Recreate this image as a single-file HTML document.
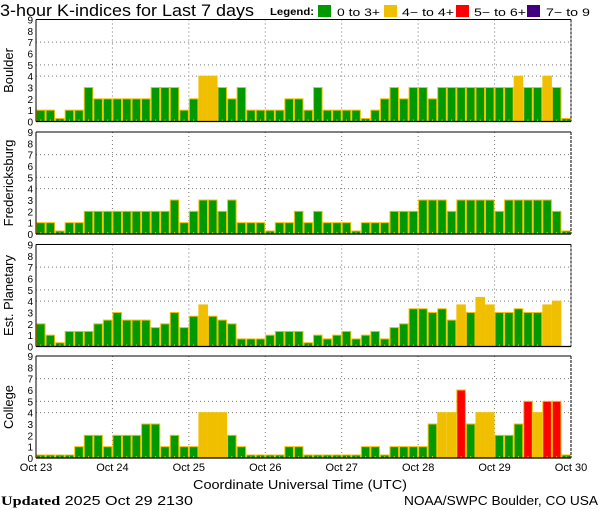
<!DOCTYPE html>
<html><head><meta charset="utf-8"><style>
html,body{margin:0;padding:0;background:#fff;}
svg{display:block;font-family:"Liberation Sans",sans-serif;}
</style></head><body>
<svg id="chart" width="600" height="510" viewBox="0 0 600 510">
<text x="0" y="16" font-size="17" textLength="254" lengthAdjust="spacingAndGlyphs" fill="#000">3-hour K-indices for Last 7 days</text>
<g>
<text x="270" y="15" font-size="10" font-weight="bold" textLength="44" lengthAdjust="spacingAndGlyphs" fill="#000">Legend:</text>
<rect x="318" y="5" width="13" height="12" fill="#009900"/>
<text x="337" y="16" font-size="11" textLength="43" lengthAdjust="spacingAndGlyphs">0 to 3+</text>
<rect x="384" y="5" width="13" height="12" fill="#f0c000"/>
<text x="402" y="16" font-size="11" textLength="52" lengthAdjust="spacingAndGlyphs">4− to 4+</text>
<rect x="456" y="5" width="13" height="12" fill="#ff0000"/>
<text x="474" y="16" font-size="11" textLength="52" lengthAdjust="spacingAndGlyphs">5− to 6+</text>
<rect x="527" y="5" width="13" height="12" fill="#400080"/>
<text x="546" y="16" font-size="11" textLength="44" lengthAdjust="spacingAndGlyphs">7− to 9</text>
</g>
<text x="193" y="489" font-size="13" textLength="214" lengthAdjust="spacingAndGlyphs">Coordinate Universal Time (UTC)</text>
<text x="1" y="505" font-size="13" textLength="192" lengthAdjust="spacingAndGlyphs"><tspan font-family="Liberation Serif, serif" font-weight="bold">Updated</tspan> 2025 Oct 29 2130</text>
<text x="404" y="505" font-size="13" textLength="194" lengthAdjust="spacingAndGlyphs">NOAA/SWPC Boulder, CO USA</text>
</svg>
<script>
const panelNames = ["Boulder","Fredericksburg","Est. Planetary","College"];
const dayLabels = ["Oct 23","Oct 24","Oct 25","Oct 26","Oct 27","Oct 28","Oct 29","Oct 30"];
const yTicks = [0,1,2,3,4,5,6,7,8,9];
const gridLevels = [4,5,7];
const boulder = [1,1,0,1,1,3,2,2, 2,2,2,2,3,3,3,1, 2,4,4,3,2,3,1,1, 1,1,2,2,1,3,1,1, 1,1,0,1,2,3,2,3, 3,2,3,3,3,3,3,3, 3,3,4,3,3,4,3,0];
const fredericksburg = [1,1,0,1,1,2,2,2, 2,2,2,2,2,2,3,1, 2,3,3,2,3,1,1,1, 0,1,1,2,1,2,1,1, 1,0,1,1,1,2,2,2, 3,3,3,2,3,3,3,3, 2,3,3,3,3,3,2,0];
const planetary = [2,1,0.33,1.33,1.33,1.33,2,2.33, 3,2.33,2.33,2.33,1.67,2,3,1.67, 2.67,3.67,2.67,2.33,2,0.67,0.67,0.67, 1,1.33,1.33,1.33,0.33,1,0.67,1, 1.33,0.67,1,1.33,0.67,1.67,2,3.33, 3.33,3,3.33,2.33,3.67,3,4.33,3.67, 3,3,3.33,3,3,3.67,4,null];
const college = [0,0,0,0,1,2,2,1, 2,2,2,3,3,1,2,1, 1,4,4,4,2,1,0,0, 0,0,1,1,0,0,0,0, 0,0,1,1,0,1,1,1, 1,3,4,4,6,3,4,4, 2,2,3,5,4,5,5,0];
const series = [boulder,fredericksburg,planetary,college];

const NS="http://www.w3.org/2000/svg";
const svg=document.getElementById('chart');
const X0=36, X1=571, N=56;
const panelTop=[19.5,132,244.5,356], PH=102;
function xScale(i){return X0+(X1-X0)*i/N;}
function yScale(p,v){return panelTop[p]+PH-PH*v/9;}
function mk(tag,attrs,parent){const e=document.createElementNS(NS,tag);for(const k in attrs)e.setAttribute(k,attrs[k]);(parent||svg).appendChild(e);return e;}
function color(v){if(v>=6.67)return"#400080";if(v>=4.67)return"#ff0000";if(v>=3.67)return"#f0c000";return"#009900";}

series.forEach((data,p)=>{
  const g=mk('g',{});
  
  
  const t0=panelTop[p], b0=t0+PH;
  const tt=mk('text',{x:0,y:0,'font-size':13,'text-anchor':'middle',transform:`translate(13,${t0+PH/2}) rotate(-90)`},g);
  tt.textContent=panelNames[p];
  
  
  yTicks.forEach(v=>{
    const yt=mk('text',{x:33,y:yScale(p,v)+4,'font-size':10,'text-anchor':'end'},g);
    yt.textContent=v;
    
    
  });
  gridLevels.forEach(v=>{
    const gl=mk('line',{x1:X0,x2:X1,y1:yScale(p,v),y2:yScale(p,v),stroke:'#777','stroke-dasharray':'1,3'},g);
    
    
  });
  for(let d=1;d<7;d++){
    const vl=mk('line',{x1:xScale(d*8),x2:xScale(d*8),y1:t0,y2:b0,stroke:'#777','stroke-dasharray':'1,3'},g);
    
    
  }
  data.forEach((v,i)=>{
    if(v===null)return;
    const h=v===0?3:(b0-yScale(p,v));
    const c=color(v);
    const r=mk('rect',{x:xScale(i)+0.5,y:b0-h,width:xScale(i+1)-xScale(i)-1,height:h,fill:c,stroke:'#f0c000','stroke-width':1},g);
    
    
    const tk=mk('line',{x1:xScale(i+0.5),x2:xScale(i+0.5),y1:b0-2,y2:b0,stroke:'#f0c000'},g);
    
    
  });
  const bt=mk('line',{x1:X0,x2:X1,y1:t0,y2:t0,stroke:'#000','stroke-width':1},g);
  
  
  const bb=mk('line',{x1:X0,x2:X1,y1:b0,y2:b0,stroke:'#000','stroke-width':1.2},g);
  
  
  const bl=mk('line',{x1:X0,x2:X0,y1:t0,y2:b0,stroke:'#000','stroke-width':1},g);
  
  
  const br=mk('line',{x1:X1,x2:X1,y1:t0,y2:b0,stroke:'#000','stroke-width':1,'stroke-dasharray':'3,1'},g);
  
  
});
dayLabels.forEach((lab,d)=>{
  const t=mk('text',{x:xScale(d*8),y:471,'font-size':11,'text-anchor':'middle'});
  t.textContent=lab;
  
  
});
</script>
</body></html>
